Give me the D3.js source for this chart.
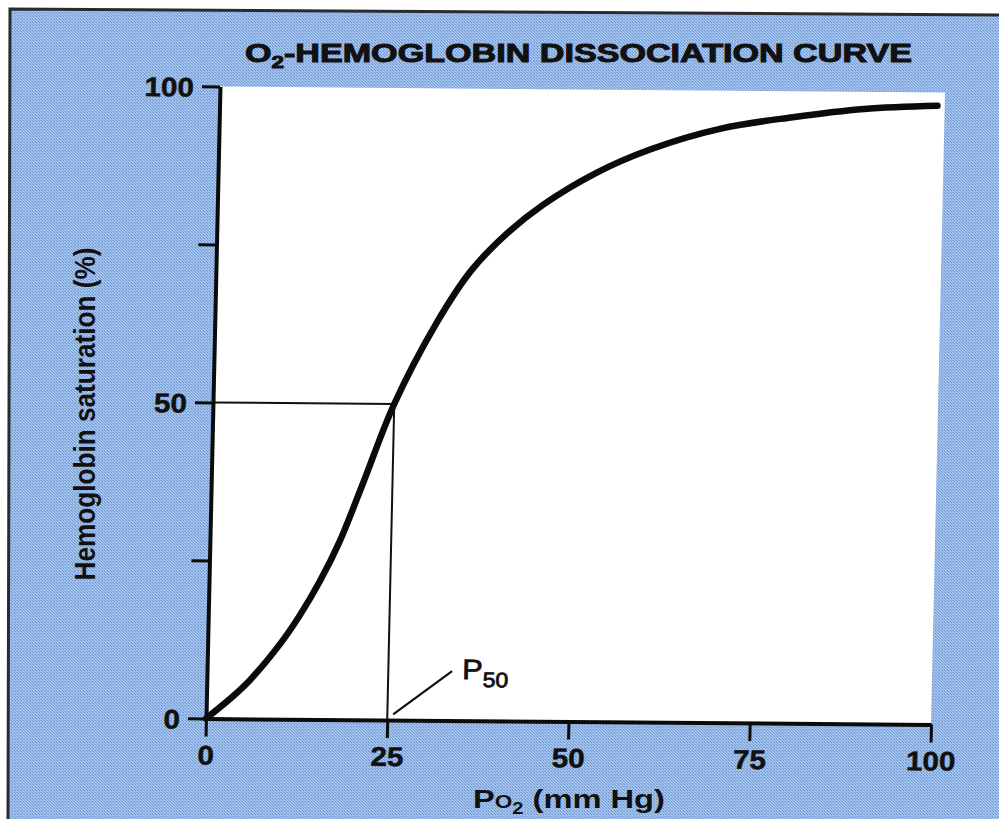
<!DOCTYPE html>
<html>
<head>
<meta charset="utf-8">
<script src="https://cdn.jsdelivr.net/npm/d3@7/dist/d3.min.js"></script>
<style>
  html, body { margin: 0; padding: 0; background: #fff; }
  svg { display: block; }
  text { font-family: "Liberation Sans", Arial, sans-serif; fill: #111; }
</style>
</head>
<body>
<svg id="chart" width="999" height="819"></svg>
<script>
// Oxygen partial pressure (mm Hg) and haemoglobin saturation (%) along the curve
const po2 = [0, 3.7, 6, 10, 12.6, 15.3, 17.9, 20.9, 25, 30.5, 35.2, 40, 44.9, 52.1, 59.5, 69.2, 79.1, 88.9, 99];
const saturation = [0, 3.6, 6.2, 11.9, 16.4, 21.9, 28.2, 37.3, 50, 62.7, 71.2, 77.1, 81.7, 86.8, 90.6, 94.0, 95.9, 97.3, 97.9];

// Axis ticks
const xTicks = [0, 25, 50, 75, 100];
const yTicks = [0, 25, 50, 75, 100];
const yTickLabels = [0, 50, 100];

// P50 marker: pressure at which haemoglobin is half saturated
const p50 = [25, 50];

const svg = d3.select("#chart");
const W = 999, H = 819;

// Paper background with a fine halftone screen
const defs = svg.append("defs");
const pat = defs.append("pattern")
  .attr("id", "screen").attr("patternUnits", "userSpaceOnUse")
  .attr("width", 3).attr("height", 3);
pat.append("rect").attr("width", 3).attr("height", 3).attr("fill", "#8cb1e4");
[[0,0],[1,1],[2,2]].forEach(([px,py]) =>
  pat.append("rect").attr("x", px).attr("y", py).attr("width", 1).attr("height", 1).attr("fill", "#b2cff3"));
[[2,0],[0,1]].forEach(([px,py]) =>
  pat.append("rect").attr("x", px).attr("y", py).attr("width", 1).attr("height", 1).attr("fill", "#7397d0"));

svg.append("rect").attr("width", W).attr("height", H).attr("fill", "#fff");
svg.append("polygon")
  .attr("points", "10,9 999,15 999,819 8,819")
  .attr("fill", "url(#screen)");
svg.append("polyline")
  .attr("points", "8,819 10,9 999,15")
  .attr("fill", "none").attr("stroke", "#2a2a30").attr("stroke-width", 3);

// Plot frame (slightly skewed like a printed page)
const pw = 725, ph = 632;
const x = d3.scaleLinear().domain([0, 100]).range([0, pw]);
const y = d3.scaleLinear().domain([0, 100]).range([ph, 0]);

const g = svg.append("g")
  .attr("transform", "matrix(1,0.00828,-0.0222,1,220,86.5)");

g.append("rect")
  .attr("x", 0).attr("y", 0).attr("width", pw).attr("height", ph)
  .attr("fill", "#fff");

// P50 guide lines
g.append("path")
  .attr("d", d3.line()([[x(0), y(p50[1])], [x(p50[0]), y(p50[1])], [x(p50[0]), y(0)]]))
  .attr("fill", "none").attr("stroke", "#111").attr("stroke-width", 2);

// Dissociation curve
const pts = po2.map((p, i) => [p, saturation[i]]);
g.append("path")
  .datum(pts)
  .attr("d", d3.line().x(d => x(d[0])).y(d => y(d[1])).curve(d3.curveCatmullRom.alpha(0.5)))
  .attr("fill", "none").attr("stroke", "#0b0b0b")
  .attr("stroke-width", 6.5).attr("stroke-linecap", "round");

// Axes
const sx = 1.1;
const xAxis = g.append("g")
  .attr("transform", `translate(0,${ph})`)
  .call(d3.axisBottom(x).tickValues(xTicks).tickSize(18).tickSizeOuter(0));
const yAxis = g.append("g")
  .call(d3.axisLeft(y).tickValues(yTicks).tickSize(18).tickSizeOuter(0)
    .tickFormat(d => yTickLabels.includes(d) ? d : ""));

[xAxis, yAxis].forEach(a => {
  a.select(".domain").attr("stroke", "#0b0b0b").attr("stroke-width", 4);
  a.selectAll(".tick line").attr("stroke", "#0b0b0b").attr("stroke-width", 3);
  a.selectAll("text").attr("font-family", "Liberation Sans, Arial, sans-serif")
    .attr("font-weight", "bold").attr("font-size", 27).attr("fill", "#111")
    .attr("stroke", "#111").attr("stroke-width", 0.5);
});
xAxis.selectAll(".tick text")
  .attr("y", 46).attr("dy", 0)
  .attr("transform", `scale(${sx},1)`);
yAxis.selectAll(".tick text")
  .attr("x", -26 / sx).attr("dy", "0.36em")
  .attr("transform", `scale(${sx},1)`);

// P50 label with leader
g.append("line")
  .attr("x1", x(25.8)).attr("y1", y(0.9))
  .attr("x2", x(33.8)).attr("y2", y(7.8))
  .attr("stroke", "#111").attr("stroke-width", 2.2);
const p50Label = g.append("text")
  .attr("transform", `translate(${x(35.2)},${y(6.6)}) scale(1.1,1)`)
  .attr("font-size", 28).attr("stroke", "#111").attr("stroke-width", 0.8);
p50Label.append("tspan").text("P");
p50Label.append("tspan").attr("font-size", 21).attr("dy", 8).text("50");

// Title
const title = svg.append("text")
  .attr("font-weight", "bold").attr("font-size", 26)
  .attr("stroke", "#111").attr("stroke-width", 1);
title.append("tspan").text("O");
title.append("tspan").attr("font-size", 17).attr("dy", 6).text("2");
title.append("tspan").attr("dy", -6).text("-HEMOGLOBIN DISSOCIATION CURVE");
const tw = title.node().getComputedTextLength();
title.attr("transform", `translate(245,62) scale(${667 / tw},1)`);

// X axis title
const xTitle = svg.append("text").attr("font-size", 26).attr("font-weight", "bold");
xTitle.append("tspan").text("P");
xTitle.append("tspan").attr("font-size", 18).text("O");
xTitle.append("tspan").attr("font-size", 16).attr("dy", 6).text("2");
xTitle.append("tspan").attr("dy", -6).text(" (mm Hg)");
const xw = xTitle.node().getComputedTextLength();
xTitle.attr("transform", `translate(473,808) scale(${192 / xw},1)`);

// Y axis title
svg.append("text")
  .attr("transform", "translate(95,414) rotate(-90) scale(1,1.2)")
  .attr("text-anchor", "middle")
  .attr("font-size", 25).attr("font-weight", "bold")
  .attr("textLength", 333).attr("lengthAdjust", "spacingAndGlyphs")
  .text("Hemoglobin saturation (%)");
</script>
</body>
</html>
